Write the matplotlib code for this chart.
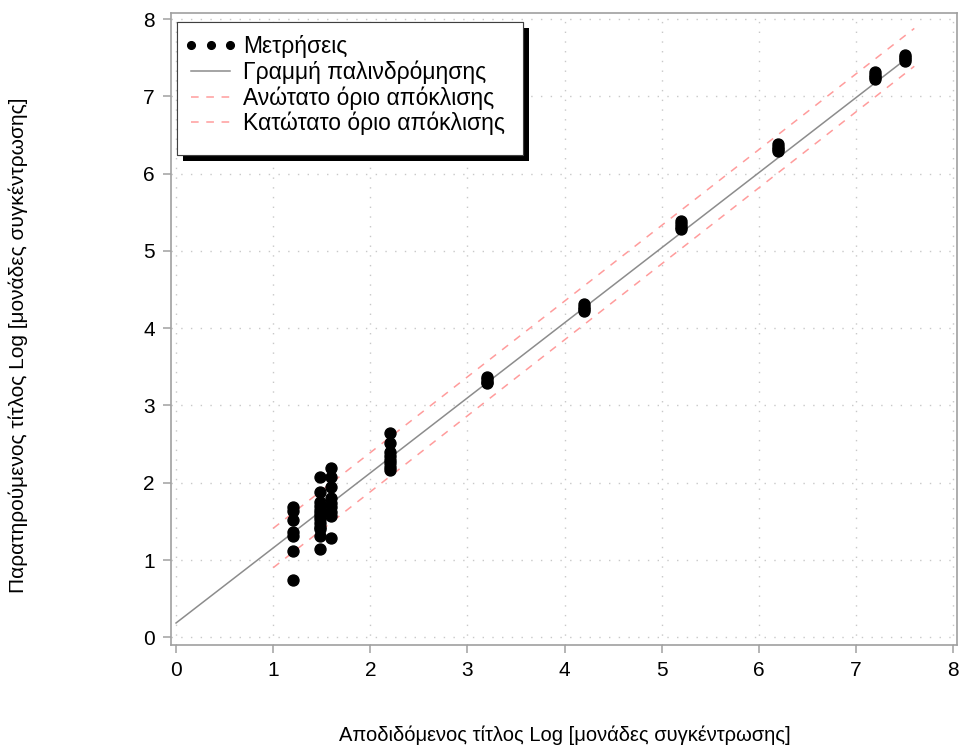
import matplotlib.pyplot as plt
import matplotlib.patheffects as pe
from matplotlib.patches import Rectangle
import numpy as np

plt.rcParams['font.family'] = ['Liberation Sans', 'DejaVu Sans']

# Μετρήσεις: αποδιδόμενος (x) και παρατηρούμενος (y) τίτλος
x_levels = [1.2, 1.48, 1.6, 2.2, 3.2, 4.2, 5.2, 6.2, 7.2, 7.5]
y_obs = [
    [1.69, 1.64, 1.52, 1.36, 1.31, 1.12, 0.74],
    [2.08, 1.88, 1.75, 1.70, 1.65, 1.61, 1.57, 1.53, 1.48, 1.43, 1.40, 1.31, 1.14],
    [2.19, 2.08, 1.94, 1.80, 1.74, 1.68, 1.62, 1.57, 1.28],
    [2.64, 2.51, 2.40, 2.35, 2.30, 2.25, 2.20, 2.16],
    [3.37, 3.34, 3.31, 3.29],
    [4.31, 4.28, 4.25, 4.22],
    [5.39, 5.35, 5.31, 5.28],
    [6.38, 6.35, 6.32, 6.30],
    [7.31, 7.28, 7.25, 7.22],
    [7.54, 7.51, 7.48, 7.46],
]

# Γραμμή παλινδρόμησης (άκρα) και όρια απόκλισης
reg_x = [0.0, 7.5]
reg_y = [0.185, 7.47]
upper_x = [1.0, 7.6]
upper_y = [1.41, 7.88]
lower_x = [1.0, 7.6]
lower_y = [0.90, 7.39]

xs = np.concatenate([[xv] * len(ys) for xv, ys in zip(x_levels, y_obs)])
ys = np.concatenate(y_obs)

fig = plt.figure(figsize=(9.6, 7.45), dpi=100)
ax = fig.add_axes([0.1778, 0.1342, 0.8191, 0.8484])

gray = '#a0a0a0'
pink = '#ff9c9c'

ax.plot(reg_x, reg_y, color='#8c8c8c', lw=1.1, zorder=2,
        label='Γραμμή παλινδρόμησης')
ax.plot(upper_x, upper_y, color=pink, lw=1.1, dashes=(5, 5), zorder=2,
        label='Ανώτατο όριο απόκλισης')
ax.plot(lower_x, lower_y, color=pink, lw=1.1, dashes=(5, 5), zorder=2,
        label='Κατώτατο όριο απόκλισης')
ax.plot(xs, ys, 'o', color='black', ms=7.9, ls='none', zorder=3,
        label='Μετρήσεις')

ax.set_xlim(-0.055, 8.04)
ax.set_ylim(-0.10, 8.08)
ax.set_xticks(range(0, 9))
ax.set_yticks(range(0, 9))
ax.grid(True, color='#c8c8c8', lw=1.0, linestyle=(0, (1, 6)))
ax.set_axisbelow(True)

for s in ax.spines.values():
    s.set_color(gray)
    s.set_linewidth(1.2)
ax.tick_params(axis='both', direction='out', color=gray, width=1.1,
               length=5.5, labelsize=15, pad=6)

# Πλαίσιο υπομνήματος με μαύρη σκιά
box = Rectangle((0.008, 0.7753), 0.44, 0.2105, transform=ax.transAxes,
                facecolor='white', edgecolor='#404040', lw=0.8,
                zorder=4, clip_on=False)
box.set_path_effects([
    pe.withSimplePatchShadow(offset=(4.5, -4.5), shadow_rgbFace='black', alpha=1),
    pe.Normal()])
ax.add_patch(box)

# Σειρά στο υπόμνημα
h, l = ax.get_legend_handles_labels()
order = [3, 0, 1, 2]
leg = ax.legend([h[i] for i in order], [l[i] for i in order],
                loc='upper left', bbox_to_anchor=(0.0176, 0.965),
                borderaxespad=0, frameon=False, fontsize=16.5, numpoints=3,
                markerscale=0.7, handlelength=2.3, handletextpad=0.25,
                labelspacing=0.1, borderpad=0)
leg.set_zorder(5)

fig.text(565 / 960, 1 - 735 / 745,
         'Αποδιδόμενος τίτλος Log [μονάδες συγκέντρωσης]',
         ha='center', va='center', fontsize=14.5)
fig.text(18 / 960, 1 - 345 / 745,
         'Παρατηρούμενος τίτλος Log [μονάδες συγκέντρωσης]',
         ha='center', va='center', rotation=90, fontsize=15)

fig.savefig('out.png', dpi=100)
